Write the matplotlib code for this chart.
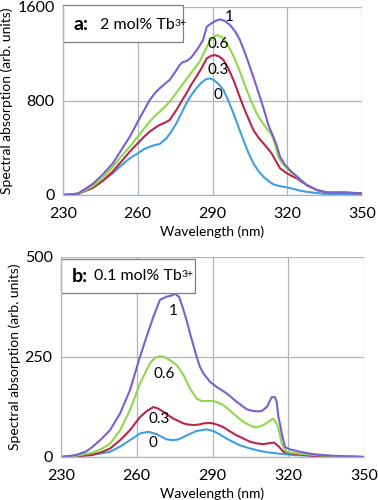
import matplotlib
matplotlib.use("Agg")
import matplotlib.pyplot as plt

plt.rcParams['font.family'] = ['Lato', 'DejaVu Sans']

c_blue = '#3f9fe0'
c_red = '#b8264a'
c_green = '#8fd84a'
c_purple = '#7b5fd0'
grid_c = '#a9b6c4'

# panel a: 2 mol% Tb3+
wa0 = [230, 236, 242, 246, 250, 253, 256.8, 260, 262.5, 264.8, 266.8, 268.8, 271.5, 273.5, 275.5, 277.5,
       279.5, 281.5, 283.5, 285.5, 287.5, 289, 290.4, 292.4, 294.4, 296.4, 298.4, 300.4, 302.4, 304.4,
       306.4, 308.4, 310.4, 312.4, 314.4, 317, 319.8, 322.5, 325.1, 327.8, 330.5, 335.8, 342, 350]
a0 = [0, 10, 71, 125, 185, 245, 312, 355, 390, 411, 425, 434, 482, 540, 610, 695,
      780, 850, 908, 955, 987, 992, 980, 945, 894, 800, 695, 580, 468, 360,
      270, 205, 156, 120, 91, 75, 65, 52, 37, 27, 20, 9, 6, 5]
wa3 = [230, 236, 242, 246, 250, 253, 256.8, 260, 262.5, 264.8, 266.8, 268.8, 270.8, 272.8, 275.5, 277.5,
       279.5, 281.5, 283.5, 285.5, 287.7, 289.5, 291, 292.7, 294.4, 296.4, 298.4, 300.4, 302.4, 304.4,
       306.4, 308.4, 310.4, 312, 313.7, 315.4, 317.1, 319.8, 321.8, 323.8, 325.8, 327.8, 331.8, 335.8,
       339, 342.5, 346, 350]
a03 = [0, 10, 60, 120, 200, 275, 369, 440, 495, 539, 570, 596, 615, 638, 723, 795,
       865, 940, 1007, 1075, 1163, 1185, 1191, 1178, 1149, 1075, 979, 865, 751, 650,
       553, 490, 440, 400, 355, 290, 227, 185, 162, 142, 112, 85, 43, 23, 22, 23, 17, 11]
wa6 = [230, 236, 242, 246, 250, 253, 256.8, 260, 262.5, 264.8, 266.8, 268.8, 270.8, 272.8, 274.8, 276.8,
       278.8, 280.8, 282.8, 284.8, 286.8, 288.8, 290.2, 291.7, 293.7, 295.7, 297.7, 299.7, 301.7,
       303.7, 305.7, 307.7, 309.7, 311.7, 313.7, 315, 316.4, 318, 319.8, 321.8, 323.8, 325.8, 327.8,
       331.8, 335.8, 340, 344, 350]
a06 = [0, 10, 75, 145, 240, 320, 411, 496, 565, 624, 670, 709, 750, 794, 850, 908,
       965, 1021, 1078, 1134, 1220, 1305, 1340, 1362, 1345, 1291, 1215, 1120, 1010,
       894, 790, 695, 625, 567, 511, 440, 326, 270, 227, 190, 156, 120, 85,
       43, 20, 18, 20, 15]
wa1 = [230, 236, 242, 246, 250, 253, 256.8, 260, 262.5, 264.8, 266.8, 268.8, 270.8, 272.8, 274.8, 276.8,
       278, 279.5, 281, 282.2, 284.2, 286.2, 287.7, 289.5, 291, 293, 295, 297, 299, 301, 303, 305,
       307, 309, 311, 312.4, 314.4, 315.8, 317.1, 318.5, 319.8, 321.8, 323.8, 325.8, 327.8, 331.8,
       335.8, 340, 344, 350]
a1 = [0, 12, 95, 175, 270, 370, 496, 624, 720, 808, 865, 908, 945, 979, 1040, 1106,
      1130, 1140, 1160, 1191, 1250, 1319, 1432, 1461, 1480, 1495, 1480, 1447, 1395, 1319, 1210, 1092,
      965, 837, 700, 596, 496, 420, 326, 275, 241, 195, 160, 120, 85, 43,
      20, 18, 20, 15]

# panel b: 0.1 mol% Tb3+
wb0 = [230, 236, 242, 246, 249.4, 253.4, 257.3, 261.3, 264.6, 267.9, 270, 271.9, 274.5, 276.5, 278.5,
       281.1, 283.7, 285.7, 287.7, 290.3, 293, 295.6, 298.3, 300.9, 303.5, 306.2, 308.9, 311.5, 316.8,
       322.1, 330, 340, 350]
b0 = [0, 2, 5, 9, 13, 26, 42, 59, 63, 57, 50, 44, 42, 44, 50,
      58, 65, 67, 69, 65, 56, 46, 37, 29, 24, 19, 15, 12, 8,
      5, 3, 1, 0]
wb3 = [230, 236, 242, 246, 249.4, 253.4, 257.3, 261.3, 264, 266.6, 268.5, 270.5, 272.5, 274.5, 276.5,
       278.5, 280.5, 282.5, 284.5, 286.4, 289, 290.3, 292.2, 294.2, 296.9, 299.6, 302.3, 304.9, 307.5,
       310.1, 312.8, 314.4, 316.1, 317.1, 318.1, 320, 322.1, 326, 330, 340, 350]
b03 = [0, 2, 5, 12, 21, 42, 67, 100, 115, 125, 121, 113, 104, 96, 90,
       84, 81, 80, 81, 84, 85, 84, 80, 75, 64, 54, 46, 38, 34,
       32, 35, 36, 27, 20, 13, 10, 8, 5, 3, 1, 0]
wb6 = [230, 236, 242, 246, 249.4, 253.4, 257.3, 261.3, 265.2, 267.2, 269.2, 271.2, 273.2, 275.8, 278.5,
       281.1, 283.7, 285.7, 287.7, 290.3, 292.2, 294.2, 296.2, 298.2, 300.2, 302.2, 304.2, 306.2, 308.2,
       310.1, 312.1, 314.1, 315.7, 316.6, 317.4, 318.4, 319.4, 321, 324.7, 330, 340, 350]
b06 = [0, 3, 10, 20, 33, 67, 117, 184, 234, 248, 252, 249, 242, 230, 205,
       171, 146, 140, 140, 140, 136, 130, 120, 109, 98, 88, 81, 75, 75,
       80, 88, 96, 80, 58, 34, 22, 13, 11, 8, 5, 2, 0]
wb1 = [230, 236, 240, 242.4, 246, 249.4, 253.4, 257.3, 261.3, 263.9, 266.6, 269.2, 271.9, 273.5, 275.2,
       276.8, 278.5, 279.8, 281.1, 282.4, 283.7, 285, 286.4, 289, 291.7, 295.6, 299.6, 303.6, 306.2, 308,
       309.5, 311.5, 313.4, 314.7, 315.4, 316.1, 316.8, 317.4, 318.7, 320.7, 324.7, 330, 335.2, 342, 350]
b1 = [0, 5, 14, 25, 45, 67, 109, 167, 251, 301, 351, 393, 401, 403, 408,
      400, 368, 340, 309, 280, 251, 226, 209, 188, 175, 159, 138, 119, 115, 114,
      115, 125, 149, 150, 138, 100, 80, 59, 25, 19, 13, 7, 4, 2, 0]

lab_a = [('1', 296.8, 1518), ('0.6', 292.3, 1283), ('0.3', 292.3, 1066), ('0', 292.3, 854)]
lab_b = [('1', 274.5, 366), ('0.6', 270.8, 207), ('0.3', 268.9, 94), ('0', 266.3, 35)]

fig = plt.figure(figsize=(3.78, 5.0), dpi=100)
axa = fig.add_axes([0.1667, 0.61, 0.791, 0.376])
axb = fig.add_axes([0.1614, 0.086, 0.8016, 0.40])


def style(ax, ymax, yt):
    ax.set_xlim(230, 350)
    ax.set_ylim(0, ymax)
    ax.set_xticks([230, 260, 290, 320, 350])
    ax.set_yticks(yt)
    ax.grid(True, color=grid_c, lw=0.9)
    ax.set_axisbelow(True)
    for s in ['top', 'right']:
        ax.spines[s].set_visible(False)
    for s in ['left', 'bottom']:
        ax.spines[s].set_color(grid_c)
        ax.spines[s].set_linewidth(0.9)
    ax.tick_params(length=0, labelsize=11.5, pad=6)
    ax.tick_params(axis='x', pad=9)
    ax.set_xlabel('Wavelength (nm)', fontsize=10, labelpad=3)
    ax.set_ylabel('Spectral absorption (arb. units)', fontsize=10, labelpad=3)


def tag(ax, letter, label, y, x2):
    ax.text(0.035, y, letter + ':', transform=ax.transAxes, fontsize=14,
            ha='left', va='center', fontweight='bold', zorder=3)
    t = ax.text(x2, y, label, transform=ax.transAxes, fontsize=11.5,
                ha='left', va='center', zorder=3)
    # superscript "3+" glued to the end of "Tb"
    ax.annotate('3+', xy=(1, 0.95), xycoords=t, xytext=(-0.5, 0), textcoords='offset points',
                fontsize=7.5, ha='left', va='top', zorder=3)


def draw(ax, series):
    for w, v, c in series:
        ax.plot(w, v, color=c, lw=1.5, solid_joinstyle='round', solid_capstyle='round')


draw(axa, [(wa0, a0, c_blue), (wa3, a03, c_red), (wa6, a06, c_green), (wa1, a1, c_purple)])
style(axa, 1600, [0, 800, 1600])
for t, x, y in lab_a:
    axa.text(x, y, t, fontsize=11, ha='center', va='center')
axa.add_patch(plt.Rectangle((0.0, 0.814), 0.40, 0.196, transform=axa.transAxes,
                            fill=True, facecolor='white', edgecolor='#808080', lw=0.9,
                            zorder=2.5, clip_on=False))
tag(axa, 'a', '2 mol% Tb', 0.905, 0.125)

draw(axb, [(wb0, b0, c_blue), (wb3, b03, c_red), (wb6, b06, c_green), (wb1, b1, c_purple)])
style(axb, 500, [0, 250, 500])
for t, x, y in lab_b:
    axb.text(x, y, t, fontsize=11, ha='center', va='center')
axb.add_patch(plt.Rectangle((0.0, 0.82), 0.442, 0.17, transform=axb.transAxes,
                            fill=True, facecolor='white', edgecolor='#808080', lw=0.9,
                            zorder=2.5, clip_on=False))
tag(axb, 'b', '0.1 mol% Tb', 0.905, 0.11)

fig.savefig('out.png', dpi=100)
